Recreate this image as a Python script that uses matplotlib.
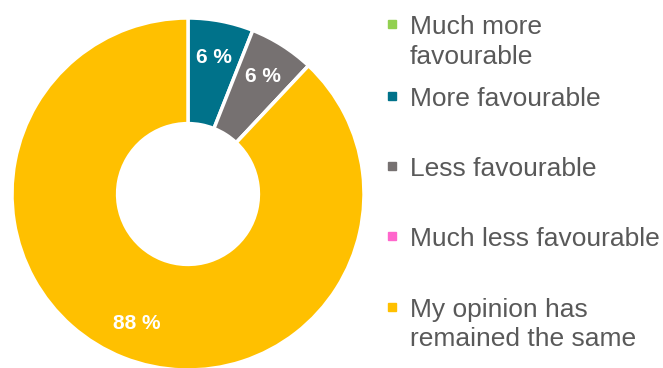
import numpy as np
import matplotlib
matplotlib.use("Agg")
import matplotlib.pyplot as plt
import matplotlib.patches as mpatches

plt.rcParams["font.family"] = ["Liberation Sans", "DejaVu Sans"]

# data
categories = ["Much more\nfavourable", "More favourable", "Less favourable",
              "Much less favourable", "My opinion has\nremained the same"]
values = [0, 6, 6, 0, 88]
colors = ["#92D050", "#00728A", "#767171", "#FF66CC", "#FFC000"]

W, H = 663, 368
fig = plt.figure(figsize=(W / 100, H / 100), dpi=100)

# pie axes: centre (188, 194) px, radius 176 px
cx, cy, R = 188, 194, 176
ax = fig.add_axes([(cx - R) / W, (H - cy - R) / H, 2 * R / W, 2 * R / H])

wedges, _ = ax.pie(values, colors=colors, startangle=90, counterclock=False,
                   radius=1, wedgeprops=dict(width=0.6, edgecolor="white", linewidth=2.5))
ax.set_xlim(-1, 1)
ax.set_ylim(-1, 1)
ax.set_aspect("equal")
ax.axis("off")

# value labels
total = sum(values)
start = 90.0
for v in values:
    span = 360.0 * v / total
    if v > 0:
        mid = np.deg2rad(start - span / 2)
        r = 0.79
        ax.text(r * np.cos(mid), r * np.sin(mid), f"{v} %", color="white",
                fontsize=15, fontweight="bold", ha="center", va="center")
    start -= span

# legend, drawn manually
first_line_y = [24, 96, 166, 236, 307]
for lab, col, y in zip(categories, colors, first_line_y):
    fig.patches.append(mpatches.Rectangle((388 / W, (H - y - 4) / H), 8 / W, 8 / H,
                                          transform=fig.transFigure, color=col))
    for i, line in enumerate(lab.split("\n")):
        fig.text(410 / W, (H - y - i * 30) / H, line, color="#595959",
                 fontsize=19, ha="left", va="center_baseline")

fig.savefig("out.png", dpi=100)
